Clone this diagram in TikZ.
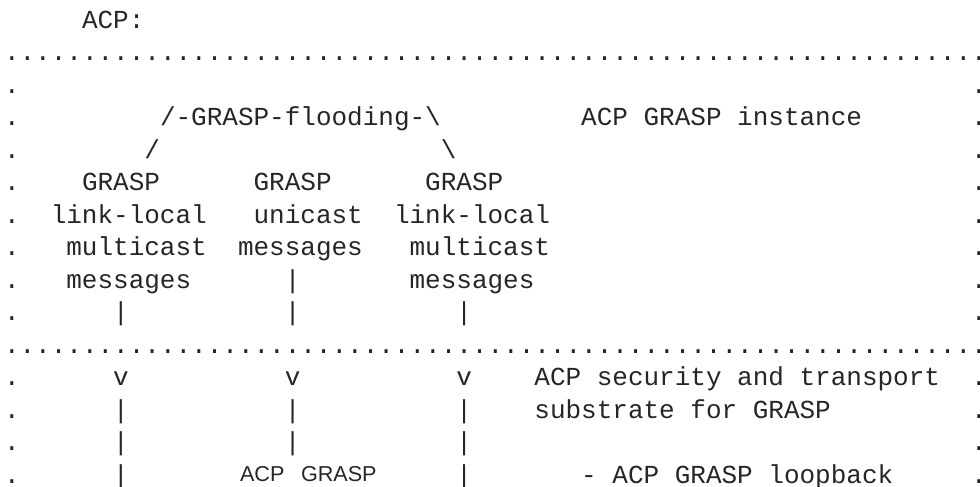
\documentclass[tikz,border=0pt]{standalone}
\usepackage{fontspec}
\setmonofont{Liberation Mono}
\newfontfamily\propsans{Liberation Sans}
\definecolor{ink}{HTML}{262626}
% one character cell = 15.6 units wide, one text row = 32.47 units high
\newcommand\asc[3]{\node[mono] (r#1-c#2) at ({4+15.6*#2},{28.5+32.47*#1}) {#3};}
\newcommand\dotrow{...............................................................}
\begin{document}
\begin{tikzpicture}[x=0.5pt,y=-0.5pt,
  mono/.style={font=\ttfamily\fontsize{13pt}{16pt}\selectfont, text=ink,
               inner sep=0pt, outer sep=0pt, anchor=base west},
  prop/.style={font=\propsans\fontsize{10.8pt}{13pt}\selectfont, text=ink,
               inner sep=0pt, outer sep=0pt, anchor=base west}]
\useasboundingbox (0,0) rectangle (980,487);

% title and the two dotted borders
\asc{0}{5}{ACP:}
\asc{1}{0}{\dotrow}
\asc{10}{0}{\dotrow}

% dotted side walls
\foreach \r in {2,...,9,11,12,13,14} {
  \asc{\r}{0}{.}
  \asc{\r}{62}{.}
}

% upper box: GRASP instance
\asc{3}{10}{/-GRASP-flooding-\textbackslash}
\asc{3}{37}{ACP GRASP instance}
\asc{4}{9}{/}
\asc{4}{28}{\textbackslash}
\asc{5}{5}{GRASP}
\asc{5}{16}{GRASP}
\asc{5}{27}{GRASP}
\asc{6}{3}{link-local}
\asc{6}{16}{unicast}
\asc{6}{25}{link-local}
\asc{7}{4}{multicast}
\asc{7}{15}{messages}
\asc{7}{26}{multicast}
\asc{8}{4}{messages}
\asc{8}{18}{|}
\asc{8}{26}{messages}
\asc{9}{7}{|}
\asc{9}{18}{|}
\asc{9}{29}{|}

% lower box: security and transport substrate
\asc{11}{7}{v}
\asc{11}{18}{v}
\asc{11}{29}{v}
\asc{11}{34}{ACP security and transport}
\asc{12}{7}{|}
\asc{12}{18}{|}
\asc{12}{29}{|}
\asc{12}{34}{substrate for GRASP}
\asc{13}{7}{|}
\asc{13}{18}{|}
\asc{13}{29}{|}
\asc{14}{7}{|}
\asc{14}{29}{|}
\asc{14}{37}{- ACP GRASP loopback}
\node[prop] (loopacp) at (240,481.5) {ACP};
\node[prop] (loopgrasp) at (301,481.5) {GRASP};
\end{tikzpicture}
\end{document}
